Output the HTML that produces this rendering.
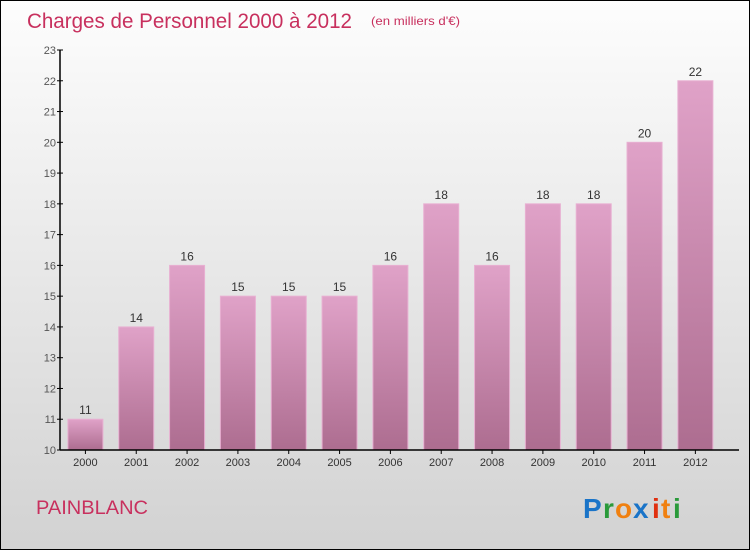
<!DOCTYPE html>
<html><head><meta charset="utf-8"><style>
body{margin:0;}
#c{width:748px;height:548px;border:1px solid #000;background:linear-gradient(#fdfdfd,#d2d2d2);position:relative;overflow:hidden;font-family:"Liberation Sans",sans-serif;}
</style></head><body>
<div id="c">
<svg id="s" width="748" height="548" xmlns="http://www.w3.org/2000/svg" style="position:absolute;left:0;top:0">
<defs><linearGradient id="g" x1="0" y1="0" x2="0" y2="1"><stop offset="0" stop-color="#e0a2c8"/><stop offset="1" stop-color="#ad6d90"/></linearGradient></defs>
<text x="26" y="27" font-size="21" fill="#c8305e" textLength="325" lengthAdjust="spacingAndGlyphs">Charges de Personnel 2000 à 2012</text>
<text x="370" y="24" font-size="12" fill="#c8305e" textLength="89" lengthAdjust="spacingAndGlyphs">(en milliers d'€)</text>
<text x="35" y="513" font-size="19" fill="#c8305e" textLength="112" lengthAdjust="spacingAndGlyphs">PAINBLANC</text>
<g font-size="28" font-weight="bold">
<text x="582" y="517" fill="#1a74c8">P</text><text x="602" y="517" fill="#2a9a3a">r</text><text x="614" y="517" fill="#f08010">o</text><text x="632" y="517" fill="#1a74c8">x</text><text x="651" y="517" fill="#e03010">i</text><text x="660" y="517" fill="#f08010">t</text><text x="672" y="517" fill="#2a9a3a">i</text></g>
<g id="plot"></g>
</svg></div>
<script>
const categories=["2000","2001","2002","2003","2004","2005","2006","2007","2008","2009","2010","2011","2012"];
const values=[11,14,16,15,15,15,16,18,16,18,18,20,22];
const ticks=[10,11,12,13,14,15,16,17,18,19,20,21,22,23];
const NS="http://www.w3.org/2000/svg";
const x0=59,slot=50.83,yMin=10,yMax=23,yB=449,yT=49;
const y=v=>yB-(v-yMin)/(yMax-yMin)*(yB-yT);
const xc=i=>x0+slot*(i+0.5);
const p=document.getElementById('plot');
function mk(t,a){const e=document.createElementNS(NS,t);for(const k in a)e.setAttribute(k,a[k]);p.appendChild(e);return e;}
ticks.forEach(t=>{
 const l=mk('line',{x1:x0-3,x2:x0+3,y1:y(t),y2:y(t),stroke:'#000'});
 
 
 const tx=mk('text',{x:x0-4,y:y(t)+4,'font-size':11,fill:'#555','text-anchor':'end'});
 tx.textContent=t;
 
 
});
values.forEach((v,i)=>{
 const r=mk('rect',{x:xc(i)-17.5,y:y(v),width:35,height:yB-y(v),fill:'url(#g)',stroke:'#e8b0d2','stroke-width':1});
 
 
 const vt=mk('text',{x:xc(i),y:y(v)-5,'font-size':12,fill:'#333','text-anchor':'middle'});
 vt.textContent=v;
 
 
 const ct=mk('text',{x:xc(i),y:yB+16,'font-size':11,fill:'#333','text-anchor':'middle'});
 ct.textContent=categories[i];
 
 
 const tk=mk('line',{x1:xc(i),x2:xc(i),y1:yB,y2:yB+4,stroke:'#000'});
 
 
});
const ya=mk('line',{x1:x0,x2:x0,y1:yT,y2:yB,stroke:'#000','stroke-width':1.5});


const xa=mk('line',{x1:x0,x2:738,y1:yB,y2:yB,stroke:'#000','stroke-width':1.5});


</script>
</body></html>
